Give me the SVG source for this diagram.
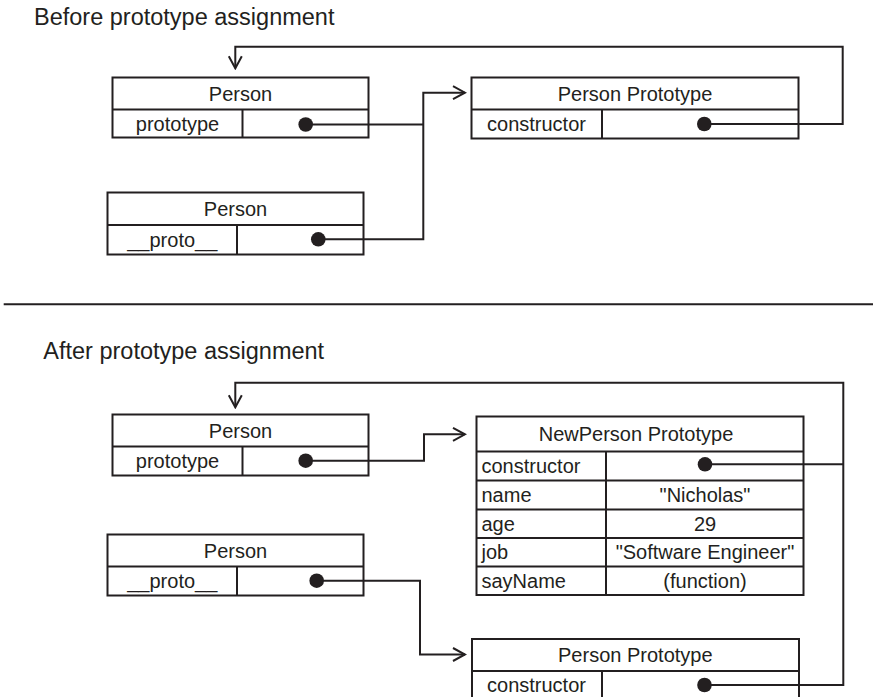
<svg xmlns="http://www.w3.org/2000/svg" width="873" height="697" viewBox="0 0 873 697">
<style>
  .box { fill: #fff; stroke: #231f20; stroke-width: 2; }
  .div { stroke: #231f20; stroke-width: 2; fill: none; }
  .conn { stroke: #231f20; stroke-width: 2; fill: none; }
  text { font-family: "Liberation Sans", Arial, sans-serif; fill: #231f20; }
  .lbl { font-size: 20px; }
  .c { text-anchor: middle; }
  .title { font-size: 23.5px; }
</style>
<defs>
  <marker id="arrow" markerUnits="userSpaceOnUse" viewBox="-15 -9 17 18" refX="0" refY="0" markerWidth="17" markerHeight="18" orient="auto">
    <path d="M-12,-6.5 L0,0 L-12,6.5" fill="none" stroke="#231f20" stroke-width="2"/>
  </marker>
  <marker id="dot" markerUnits="userSpaceOnUse" viewBox="-8 -8 16 16" refX="0" refY="0" markerWidth="16" markerHeight="16" orient="auto">
    <circle cx="0" cy="0" r="7.3" fill="#231f20"/>
  </marker>
</defs>
<rect width="873" height="697" fill="#fff"/>

<text class="title" x="34" y="25">Before prototype assignment</text>
<text class="title" x="43.3" y="359.3">After prototype assignment</text>
<line x1="3.7" y1="304.3" x2="873" y2="304.3" stroke="#231f20" stroke-width="2"/>

<g id="before-person">
  <rect class="box" x="112.5" y="77.5" width="256" height="60"/>
  <line class="div" x1="112.5" y1="109.5" x2="368.5" y2="109.5"/>
  <line class="div" x1="242.5" y1="109.5" x2="242.5" y2="137.5"/>
  <text class="lbl c" x="240.5" y="100.5">Person</text>
  <text class="lbl c" x="177.5" y="130.5">prototype</text>
</g>

<g id="before-instance">
  <rect class="box" x="107.5" y="192.5" width="256" height="62"/>
  <line class="div" x1="107.5" y1="225" x2="363.5" y2="225"/>
  <line class="div" x1="237" y1="225" x2="237" y2="254.5"/>
  <text class="lbl c" x="235.5" y="215.7">Person</text>
  <text class="lbl c" x="172.3" y="246.7">__proto__</text>
</g>

<g id="before-person-prototype">
  <rect class="box" x="471.5" y="77.5" width="327" height="61"/>
  <line class="div" x1="471.5" y1="109.5" x2="798.5" y2="109.5"/>
  <line class="div" x1="602" y1="109.5" x2="602" y2="138.5"/>
  <text class="lbl c" x="635" y="100.5">Person Prototype</text>
  <text class="lbl c" x="536.5" y="131">constructor</text>
</g>

<g id="after-person">
  <rect class="box" x="112.5" y="414.5" width="256" height="61"/>
  <line class="div" x1="112.5" y1="446.5" x2="368.5" y2="446.5"/>
  <line class="div" x1="242.5" y1="446.5" x2="242.5" y2="475.5"/>
  <text class="lbl c" x="240.5" y="437.5">Person</text>
  <text class="lbl c" x="177.5" y="468">prototype</text>
</g>

<g id="after-instance">
  <rect class="box" x="107.5" y="534.5" width="256" height="61"/>
  <line class="div" x1="107.5" y1="566.5" x2="363.5" y2="566.5"/>
  <line class="div" x1="237" y1="566.5" x2="237" y2="595.5"/>
  <text class="lbl c" x="235.5" y="557.5">Person</text>
  <text class="lbl c" x="172.3" y="588">__proto__</text>
</g>

<g id="newperson-prototype">
  <rect class="box" x="476.5" y="416.5" width="327" height="178.5"/>
  <line class="div" x1="476.5" y1="451.5" x2="803.5" y2="451.5"/>
  <line class="div" x1="476.5" y1="480.5" x2="803.5" y2="480.5"/>
  <line class="div" x1="476.5" y1="509.5" x2="803.5" y2="509.5"/>
  <line class="div" x1="476.5" y1="538" x2="803.5" y2="538"/>
  <line class="div" x1="476.5" y1="566.5" x2="803.5" y2="566.5"/>
  <line class="div" x1="606" y1="451.5" x2="606" y2="595"/>
  <text class="lbl c" x="636" y="441">NewPerson Prototype</text>
  <text class="lbl" x="481.5" y="473">constructor</text>
  <text class="lbl" x="481.5" y="502">name</text>
  <text class="lbl" x="481.5" y="530.7">age</text>
  <text class="lbl" x="481.5" y="559.2">job</text>
  <text class="lbl" x="481.5" y="587.7">sayName</text>
  <text class="lbl c" x="705" y="502">"Nicholas"</text>
  <text class="lbl c" x="705" y="530.7">29</text>
  <text class="lbl c" x="705" y="559.2">"Software Engineer"</text>
  <text class="lbl c" x="705" y="587.7">(function)</text>
</g>

<g id="after-person-prototype">
  <rect class="box" x="472" y="639" width="327" height="70"/>
  <line class="div" x1="472" y1="671" x2="799" y2="671"/>
  <line class="div" x1="602" y1="671" x2="602" y2="709"/>
  <text class="lbl c" x="635.3" y="662">Person Prototype</text>
  <text class="lbl c" x="536.5" y="692">constructor</text>
</g>

<g id="connectors">
  <path class="conn" marker-start="url(#dot)" d="M305.7,124.5 H423.3"/>
  <path class="conn" marker-start="url(#dot)" marker-end="url(#arrow)" d="M318.3,239.3 H423.3 V92.7 H465"/>
  <path class="conn" marker-start="url(#dot)" marker-end="url(#arrow)" d="M704.3,124 H842.7 V46.7 H235.3 V68.3"/>
  <path class="conn" marker-start="url(#dot)" marker-end="url(#arrow)" d="M305.7,460.7 H424 V434.3 H465"/>
  <path class="conn" marker-start="url(#dot)" marker-end="url(#arrow)" d="M316.7,580.7 H420 V654.5 H465"/>
  <path class="conn" marker-start="url(#dot)" d="M705,464.3 H843.3"/>
  <path class="conn" marker-start="url(#dot)" marker-end="url(#arrow)" d="M704.5,685 H843.3 V382.7 H235.3 V407.3"/>
</g>
</svg>
